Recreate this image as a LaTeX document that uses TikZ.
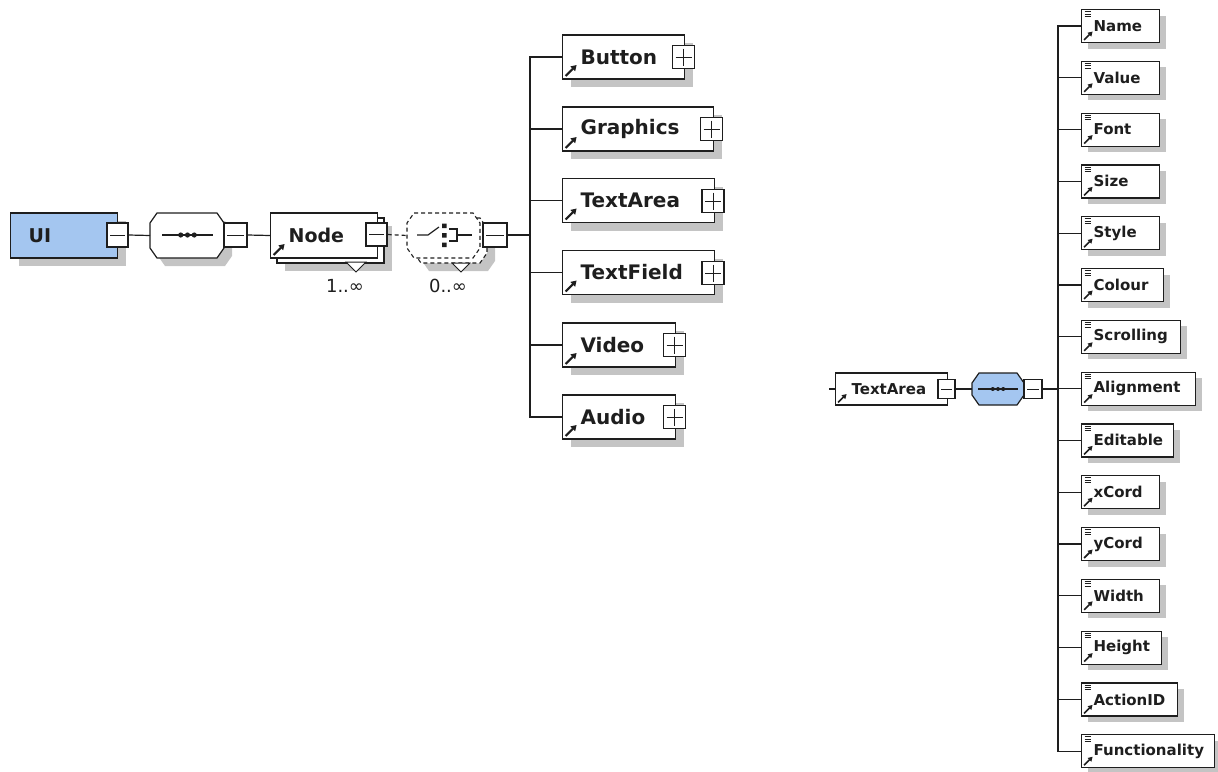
\documentclass[tikz,border=0pt]{standalone}
\usepackage{fontspec}
\setmainfont{DejaVu Sans}
\usetikzlibrary{arrows.meta,shadows}
\definecolor{uiblue}{RGB}{164,198,240}
\definecolor{shad}{RGB}{196,196,196}
\definecolor{ink}{RGB}{30,30,30}
\newcommand{\octo}[5]{% x1 y1 x2 y2 style
  \path[#5] ({#1+7},#2) -- ({#3-7},#2) -- (#3,{#2+10}) -- (#3,{#4-10}) -- ({#3-7},#4)
    -- ({#1+7},#4) -- (#1,{#4-10}) -- (#1,{#2+10}) -- cycle;}
\newcommand{\seqsym}[4]{% x1 x2 y dotsize
  \draw[ink,line width=1.2pt] (#1,#3) -- (#2,#3);
  \fill[ink] ({(#1+#2)/2-#4*2.6},#3) circle (#4pt) ({(#1+#2)/2},#3) circle (#4pt) ({(#1+#2)/2+#4*2.6},#3) circle (#4pt);}
\begin{document}
\begin{tikzpicture}[x=1pt,y=-1pt,
  box/.style={draw=ink, line width=1.2pt, fill=white, anchor=west, inner xsep=0pt, inner ysep=0pt, align=left, text=ink},
  shadowed/.style={drop shadow={shadow xshift=#1, shadow yshift=-#1, fill=shad, opacity=1}},
  midarrow/.style={path picture={\draw[ink,line width=2pt,-{Triangle[length=5.5pt,width=6.5pt]}] ([shift={(3pt,3pt)}]path picture bounding box.south west) -- ++(11pt,11pt);}},
  smallarrow/.style={path picture={
     \draw[ink,line width=1.6pt,-{Triangle[length=4.5pt,width=5pt]}] ([shift={(2.5pt,2.5pt)}]path picture bounding box.south west) -- ++(8.5pt,8.5pt);}},
  rgtarrow/.style={path picture={
     \draw[ink,line width=1.6pt,-{Triangle[length=4.5pt,width=5pt]}] ([shift={(2.5pt,2.5pt)}]path picture bounding box.south west) -- ++(8.5pt,8.5pt);
     \draw[ink,line width=0.6pt] ([shift={(3pt,-2pt)}]path picture bounding box.north west) -- ++(6pt,0pt)
        ([shift={(3pt,-4.3pt)}]path picture bounding box.north west) -- ++(6pt,0pt)
        ([shift={(3pt,-6.6pt)}]path picture bounding box.north west) -- ++(6pt,0pt);}},
  midel/.style={box, shadowed=8pt, midarrow, minimum height=44pt, text width=#1, font=\fontsize{20}{24}\selectfont\bfseries},
  rgtel/.style={box, shadowed=6pt, rgtarrow, minimum height=33pt, text width=#1, font=\fontsize{15}{18}\selectfont\bfseries},
  pmbox/.style={draw=ink, line width=1.1pt, fill=white, minimum width=22pt, minimum height=23pt, inner sep=0pt},
  minusbox/.style={pmbox, path picture={\draw[ink,line width=1pt] ([xshift=3pt]path picture bounding box.west) -- ([xshift=-3pt]path picture bounding box.east);}},
  plusbox/.style={pmbox, path picture={\draw[ink,line width=1pt] ([xshift=3pt]path picture bounding box.west) -- ([xshift=-3pt]path picture bounding box.east)
        ([yshift=-3pt]path picture bounding box.north) -- ([yshift=3pt]path picture bounding box.south);}},
  conn/.style={draw=ink, line width=1.2pt},
  mult/.style={font=\fontsize{18}{20}\selectfont, text=ink, inner sep=0pt},
  hole/.style={inner sep=0pt, outer sep=0pt}
]
\useasboundingbox (0,0) rectangle (1218,771);

% ---------- left part ----------
\node[box, shadowed=8pt, fill=uiblue, minimum height=45pt, text width=107pt, font=\fontsize{19}{22}\selectfont\bfseries] (ui) at (10,235.5) {\hspace*{18pt}UI};
\node[minusbox, minimum width=21pt, minimum height=24pt] (uim) at (117.5,235) {};

% sequence compositor
\octo{158}{221}{232}{266}{fill=shad}
\octo{150}{213}{224}{258}{draw=ink, line width=1.2pt, fill=white}
\node[hole, minimum width=74pt, minimum height=45pt] (seq) at (187,235.5) {};
\seqsym{162}{213}{235}{2.6}
\node[minusbox, minimum width=23pt, minimum height=24pt] (seqm) at (235.5,235) {};

% Node element (1..inf)
\fill[shad] (285,226) rectangle (392,271);
\draw[ink, line width=1.2pt, fill=white] (277,218) rectangle (384,263);
\draw[ink, line width=1pt, fill=white] (346,262) -- (366,262) -- (356,272) -- cycle;
\node[box, midarrow, minimum height=45pt, text width=107pt, font=\fontsize{19}{22}\selectfont\bfseries] (node) at (270,235.5) {\hspace*{18pt}Node};
\node[minusbox, minimum width=21pt, minimum height=23pt] (nodem) at (376.5,234.5) {};
\node[mult] (m1) at (345,286) {1..∞};

% choice compositor (0..inf)
\octo{422}{226}{495}{271}{fill=shad}
\octo{414}{218}{487}{263}{draw=ink, line width=1.1pt, dash pattern=on 4pt off 3pt, fill=white}
\octo{407}{213}{480}{258}{draw=ink, line width=1.1pt, dash pattern=on 4pt off 3pt, fill=white}
\draw[ink, line width=1pt, fill=white] (452,263) -- (470,263) -- (461,272) -- cycle;
\node[hole, minimum width=73pt, minimum height=45pt] (choice) at (443.5,235.5) {};
\draw[ink, line width=1.2pt] (417,235) -- (428,235) -- (439,227);
\fill[ink] (442,223.5) rectangle (446.5,228) (442,233) rectangle (446.5,237.5) (442,242.5) rectangle (446.5,247);
\draw[ink, line width=1.2pt] (449,229) -- (457,229) -- (457,241) -- (449,241) (457,235) -- (472,235);
\node[minusbox, minimum width=24pt, minimum height=24pt] (chm) at (495,235) {};
\node[mult] (m2) at (448,286) {0..∞};

% connectors left
\draw[conn] (uim.east) -- (seq.west);
\draw[conn] (seqm.east) -- (node.west);
\draw[conn, dash pattern=on 4pt off 3pt] (nodem.east) -- (choice.west);

% children of choice
\coordinate (bus) at (530,0);
\node[midel=122pt] (button)   at (562,57)  {\hspace*{18pt}Button};
\node[midel=151pt] (graphics) at (562,129) {\hspace*{18pt}Graphics};
\node[midel=152pt] (textarea) at (562,200.5) {\hspace*{18pt}TextArea};
\node[midel=152pt] (textfield) at (562,272.5) {\hspace*{18pt}TextField};
\node[midel=113pt] (video)    at (562,345) {\hspace*{18pt}Video};
\node[midel=113pt] (audio)    at (562,417) {\hspace*{18pt}Audio};
\node[plusbox] (buttonp)   at (683.5,57) {};
\node[plusbox] (graphicsp) at (711.5,129) {};
\node[plusbox] (textareap) at (713,201) {};
\node[plusbox] (textfieldp) at (713,273) {};
\node[plusbox] (videop)    at (674.5,345) {};
\node[plusbox] (audiop)    at (674.5,417) {};
\foreach \n in {button,graphics,textarea,textfield,video,audio}
  \draw[conn] (chm.east) -- (chm.east -| bus) |- (\n.west);

% ---------- right part ----------
\coordinate (stub) at (829,389);
\node[box, smallarrow, minimum height=32pt, text width=112pt, font=\fontsize{15}{18}\selectfont\bfseries] (rta) at (835,389) {\hspace*{16pt}TextArea};
\node[minusbox, minimum width=17pt, minimum height=19pt] (rtam) at (946.5,389) {};
\draw[conn] (stub) -- (rta.west);
\octo{972}{373}{1024}{405}{draw=ink, line width=1.2pt, fill=uiblue}
\node[hole, minimum width=52pt, minimum height=32pt] (rseq) at (998,389) {};
\seqsym{978}{1018}{389}{2.0}
\node[minusbox, minimum width=18pt, minimum height=19pt] (rseqm) at (1033,389) {};
\draw[conn] (rtam.east) -- (rseq.west);

\coordinate (rbus) at (1058,0);
\node[rgtel=78pt]  (name)   at (1081,26)    {\hspace*{12pt}Name};
\node[rgtel=78pt]  (value)  at (1081,77.8)  {\hspace*{12pt}Value};
\node[rgtel=78pt]  (font)   at (1081,129.6) {\hspace*{12pt}Font};
\node[rgtel=78pt]  (size)   at (1081,181.4) {\hspace*{12pt}Size};
\node[rgtel=78pt]  (style)  at (1081,233.2) {\hspace*{12pt}Style};
\node[rgtel=82pt]  (colour) at (1081,285)   {\hspace*{12pt}Colour};
\node[rgtel=99pt]  (scroll) at (1081,336.8) {\hspace*{12pt}Scrolling};
\node[rgtel=114pt] (align)  at (1081,388.6) {\hspace*{12pt}Alignment};
\node[rgtel=92pt]  (edit)   at (1081,440.4) {\hspace*{12pt}Editable};
\node[rgtel=78pt]  (xcord)  at (1081,492.2) {\hspace*{12pt}xCord};
\node[rgtel=78pt]  (ycord)  at (1081,544)   {\hspace*{12pt}yCord};
\node[rgtel=78pt]  (width)  at (1081,595.8) {\hspace*{12pt}Width};
\node[rgtel=80pt]  (height) at (1081,647.6) {\hspace*{12pt}Height};
\node[rgtel=96pt]  (action) at (1081,699.4) {\hspace*{12pt}ActionID};
\node[rgtel=133pt] (func)   at (1081,751.2) {\hspace*{12pt}Functionality};
\foreach \n in {name,value,font,size,style,colour,scroll,align,edit,xcord,ycord,width,height,action,func}
  \draw[conn] (rseqm.east) -- (rseqm.east -| rbus) |- (\n.west);
\end{tikzpicture}
\end{document}
